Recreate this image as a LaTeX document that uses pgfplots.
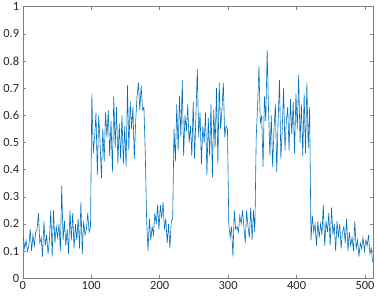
\documentclass[border=0pt]{standalone}
\usepackage{fontspec}
\setmainfont{Carlito}
\usepackage{pgfplots}
\pgfplotsset{compat=1.18}
\definecolor{mblue}{RGB}{0 114 189}
\definecolor{axgray}{RGB}{128 128 128}

\pgfplotstableread{
x y
1 0.15
3 0.11
5 0.14
7 0.10
9 0.12
11 0.18
13 0.10
15 0.16
17 0.12
19 0.17
21 0.18
23 0.24
25 0.13
27 0.15
29 0.08
31 0.21
33 0.12
35 0.16
37 0.09
39 0.14
41 0.25
43 0.08
45 0.25
47 0.13
49 0.19
51 0.15
53 0.20
55 0.10
57 0.34
59 0.14
61 0.21
63 0.12
65 0.18
67 0.09
69 0.25
71 0.14
73 0.24
75 0.11
77 0.20
79 0.14
81 0.22
83 0.11
85 0.28
87 0.09
89 0.21
91 0.16
93 0.18
95 0.24
97 0.17
99 0.19
101 0.68
103 0.46
105 0.52
107 0.61
109 0.38
111 0.60
113 0.50
115 0.37
117 0.55
119 0.43
121 0.61
123 0.52
125 0.62
127 0.45
129 0.58
131 0.39
133 0.67
135 0.48
137 0.63
139 0.42
141 0.57
143 0.44
145 0.60
147 0.42
149 0.56
151 0.41
153 0.71
155 0.47
157 0.65
159 0.55
161 0.63
163 0.44
165 0.58
167 0.67
169 0.72
171 0.62
173 0.71
175 0.62
177 0.63
179 0.46
181 0.21
183 0.10
185 0.22
187 0.14
189 0.19
191 0.16
193 0.24
195 0.20
197 0.27
199 0.18
201 0.27
203 0.22
205 0.28
207 0.18
209 0.22
211 0.13
213 0.20
215 0.11
217 0.21
219 0.22
221 0.55
223 0.43
225 0.64
227 0.47
229 0.67
231 0.52
233 0.73
235 0.45
237 0.60
239 0.54
241 0.64
243 0.50
245 0.56
247 0.45
249 0.65
251 0.44
253 0.60
255 0.77
257 0.52
259 0.61
261 0.42
263 0.56
265 0.50
267 0.61
269 0.38
271 0.59
273 0.45
275 0.64
277 0.37
279 0.62
281 0.48
283 0.70
285 0.42
287 0.72
289 0.55
291 0.62
293 0.72
295 0.52
297 0.56
299 0.55
301 0.20
303 0.15
305 0.19
307 0.08
309 0.25
311 0.18
313 0.19
315 0.17
317 0.23
319 0.20
321 0.25
323 0.19
325 0.13
327 0.25
329 0.19
331 0.15
333 0.26
335 0.14
337 0.25
339 0.17
341 0.52
343 0.63
345 0.78
347 0.57
349 0.60
351 0.41
353 0.67
355 0.58
357 0.84
359 0.62
361 0.45
363 0.60
365 0.41
367 0.55
369 0.64
371 0.39
373 0.58
375 0.73
377 0.44
379 0.55
381 0.70
383 0.47
385 0.58
387 0.63
389 0.47
391 0.66
393 0.53
395 0.65
397 0.46
399 0.68
401 0.55
403 0.75
405 0.50
407 0.64
409 0.45
411 0.68
413 0.46
415 0.72
417 0.48
419 0.63
421 0.14
423 0.23
425 0.17
427 0.20
429 0.12
431 0.21
433 0.15
435 0.20
437 0.16
439 0.27
441 0.12
443 0.21
445 0.17
447 0.24
449 0.12
451 0.26
453 0.16
455 0.20
457 0.10
459 0.21
461 0.15
463 0.20
465 0.11
467 0.17
469 0.19
471 0.13
473 0.22
475 0.10
477 0.17
479 0.12
481 0.15
483 0.10
485 0.21
487 0.11
489 0.14
491 0.08
493 0.13
495 0.11
497 0.15
499 0.10
501 0.14
503 0.12
505 0.16
507 0.09
509 0.11
511 0.06
}\signal

\begin{document}
\begin{tikzpicture}
\useasboundingbox (0,0) rectangle (377bp,296bp);
\begin{axis}[
    at={(22.7bp,17.7bp)}, anchor=south west,
    scale only axis,
    width=350.6bp, height=271.6bp,
    xmin=0, xmax=512, ymin=0, ymax=1,
    xtick={0,100,...,500},
    ytick={0,0.1,...,1},
    tick align=inside,
    major tick length=3bp,
    axis line style={axgray},
    tick style={axgray, line width=0.4pt},
    ticklabel style={font=\fontsize{12.5}{14}\selectfont, text=black!85},
    /pgf/number format/.cd, fixed, precision=1, assume math mode=true,
  ]
  \addplot[mblue, line width=0.6bp] table[x=x, y=y] {\signal};
\end{axis}
\end{tikzpicture}
\end{document}
